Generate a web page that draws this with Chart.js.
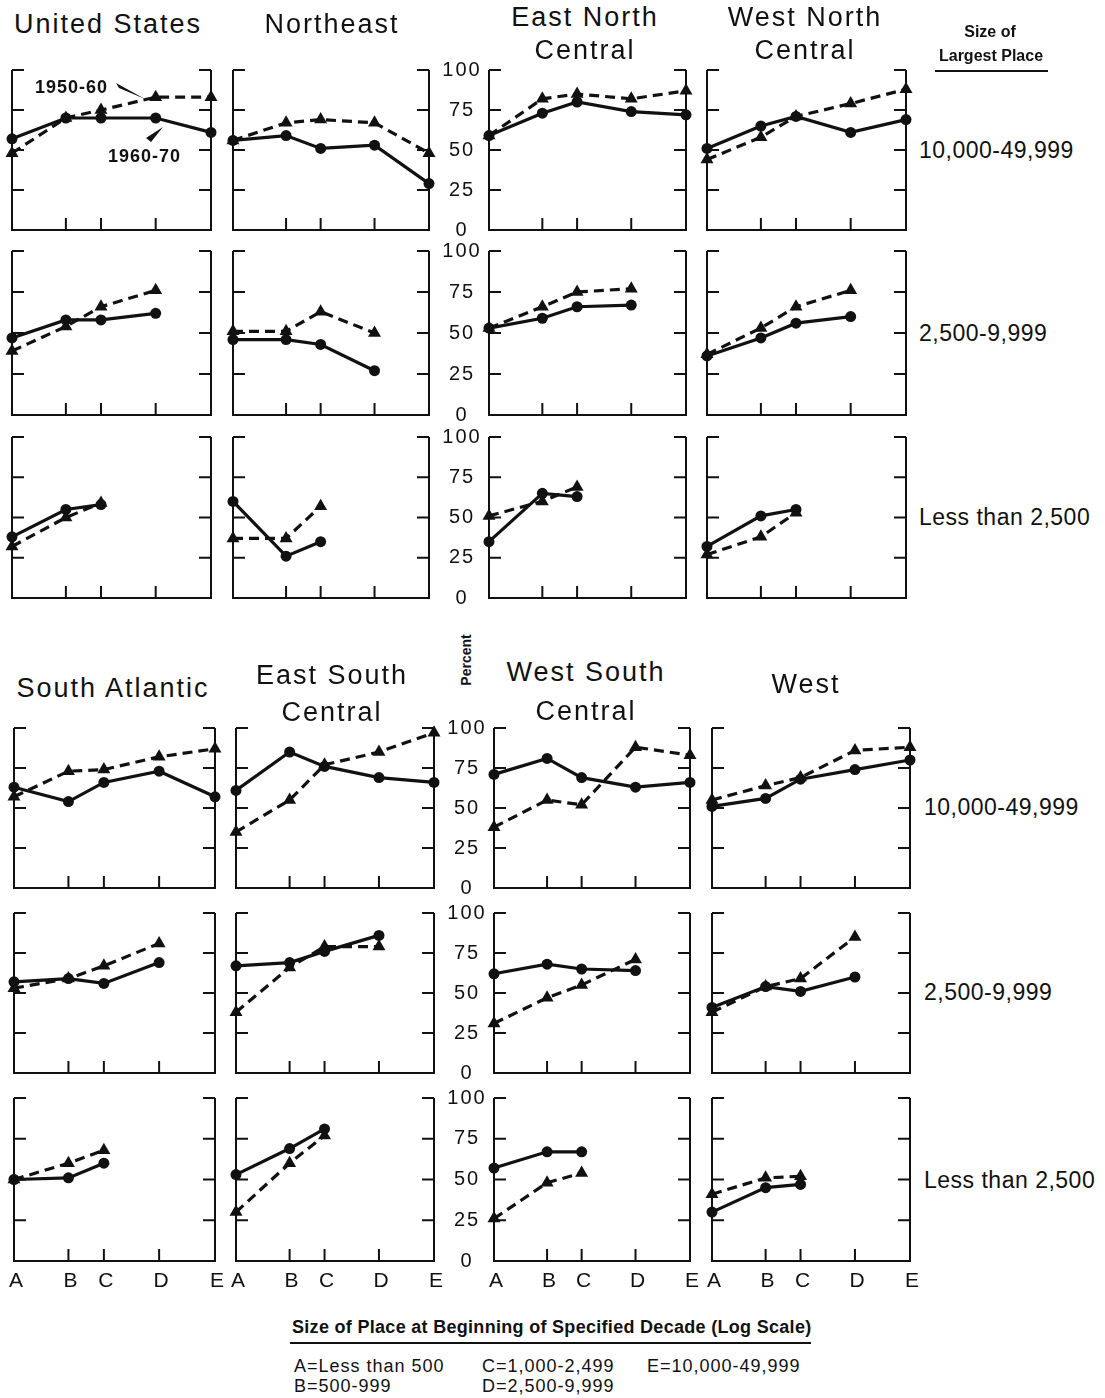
<!DOCTYPE html>
<html>
<head>
<meta charset="utf-8">
<script src="https://cdn.jsdelivr.net/npm/chart.js@4.4.0/dist/chart.umd.min.js"></script>
<style>
body { margin: 0; background: #fff; width: 1105px; height: 1398px; position: relative; overflow: hidden;
       font-family: "Liberation Sans", Arial, sans-serif; color: #111; }
.t { position: absolute; white-space: nowrap; line-height: 1; }
.c { transform: translate(-50%, -50%); }
.l { transform: translate(0, -50%); }
.title { font-size: 27px; letter-spacing: 2px; }
.row { font-size: 23px; letter-spacing: 0.5px; }
.key { font-size: 18px; letter-spacing: 1px; }
.bold { font-weight: bold; }
.small { font-size: 16px; }
.rule { position: absolute; height: 0; border-top: 2px solid #111; }
canvas { position: absolute; }
</style>
</head>
<body>
<script>
// x axis: size of place at beginning of decade (log scale)
const sizeLetters = ['A', 'B', 'C', 'D', 'E'];
const placeSize = [250, 870, 1960, 6950, 25000];
const percentTicks = [0, 25, 50, 75, 100];

const regionsTop = ['United States', 'Northeast', 'East North Central', 'West North Central'];
const regionsBottom = ['South Atlantic', 'East South Central', 'West South Central', 'West'];
const largestPlace = ['10,000-49,999', '2,500-9,999', 'Less than 2,500'];

// each array: rows for size of largest place 10,000-49,999 / 2,500-9,999 / less than 2,500
const us6070 = [[57, 70, 70, 70, 61], [47, 58, 58, 62], [38, 55, 58]];
const us5060 = [[48, 70, 75, 83, 83], [39, 54, 66, 76], [32, 50, 59]];
const ne6070 = [[56, 59, 51, 53, 29], [46, 46, 43, 27], [60, 26, 35]];
const ne5060 = [[56, 67, 69, 67, 48], [51, 51, 63, 50], [37, 37, 57]];
const enc6070 = [[59, 73, 80, 74, 72], [53, 59, 66, 67], [35, 65, 63]];
const enc5060 = [[59, 82, 85, 82, 87], [53, 66, 75, 77], [51, 60, 69]];
const wnc6070 = [[51, 65, 71, 61, 69], [36, 47, 56, 60], [32, 51, 55]];
const wnc5060 = [[44, 58, 71, 79, 88], [37, 53, 66, 76], [27, 38, 53]];
const sa6070 = [[63, 54, 66, 73, 57], [57, 59, 56, 69], [50, 51, 60]];
const sa5060 = [[57, 73, 74, 82, 87], [53, 59, 67, 81], [50, 60, 68]];
const esc6070 = [[61, 85, 76, 69, 66], [67, 69, 76, 86], [53, 69, 81]];
const esc5060 = [[35, 55, 77, 85, 97], [38, 66, 79, 79], [30, 60, 77]];
const wsc6070 = [[71, 81, 69, 63, 66], [62, 68, 65, 64], [57, 67, 67]];
const wsc5060 = [[38, 55, 52, 88, 83], [31, 47, 55, 71], [26, 48, 54]];
const west6070 = [[51, 56, 68, 74, 80], [41, 54, 51, 60], [30, 45, 47]];
const west5060 = [[55, 64, 69, 86, 88], [38, 54, 59, 85], [41, 51, 52]];

const series6070 = [[us6070, ne6070, enc6070, wnc6070], [sa6070, esc6070, wsc6070, west6070]];
const series5060 = [[us5060, ne5060, enc5060, wnc5060], [sa5060, esc5060, wsc5060, west5060]];

// panel placement (pixels of the plot frames)
const groupRows = [[[70, 230], [251, 415], [437, 598]], [[728, 888], [913, 1073], [1098, 1261]]];
const groupCols = [[[12, 211], [233, 429], [489, 686], [707, 906]], [[14, 215], [236, 434], [494, 690], [712, 910]]];
const TICK = 12;
const INK = '#111';

function text(str, x, y, cls) {
  const d = document.createElement('div');
  d.className = 't ' + cls;
  d.textContent = str;
  d.style.left = x + 'px';
  d.style.top = y + 'px';
  document.body.appendChild(d);
  return d;
}
function rule(x0, x1, y) {
  const d = document.createElement('div');
  d.className = 'rule';
  d.style.left = x0 + 'px';
  d.style.width = (x1 - x0) + 'px';
  d.style.top = (y - 1) + 'px';
  document.body.appendChild(d);
}

const framePlugin = {
  id: 'frame',
  beforeDatasetsDraw(chart, args, opts) {
    const { ctx, chartArea: a, scales: { x, y } } = chart;
    ctx.save();
    ctx.strokeStyle = INK;
    ctx.lineWidth = 2;
    ctx.lineJoin = 'miter';
    ctx.beginPath();
    ctx.moveTo(a.left, a.top);
    ctx.lineTo(a.left, a.bottom);
    ctx.lineTo(a.right, a.bottom);
    ctx.lineTo(a.right, a.top);
    percentTicks.forEach(v => {
      if (v === 0) return;
      const py = y.getPixelForValue(v);
      ctx.moveTo(a.left, py); ctx.lineTo(a.left + TICK, py);
      ctx.moveTo(a.right, py); ctx.lineTo(a.right - TICK, py);
    });
    placeSize.slice(1, -1).forEach(v => {
      const px = x.getPixelForValue(v);
      ctx.moveTo(px, a.bottom); ctx.lineTo(px, a.bottom - TICK);
    });
    ctx.stroke();

    ctx.fillStyle = INK;
    if (opts.yLabels) {
      ctx.font = '20px "Liberation Sans", Arial, sans-serif';
      ctx.letterSpacing = '2px';
      ctx.textAlign = 'center';
      ctx.textBaseline = 'middle';
      percentTicks.forEach(v => ctx.fillText(String(v), a.left - 27, y.getPixelForValue(v)));
    }
    if (opts.xLabels) {
      ctx.font = '21px "Liberation Sans", Arial, sans-serif';
      ctx.letterSpacing = '0px';
      ctx.textAlign = 'center';
      ctx.textBaseline = 'middle';
      placeSize.forEach((v, i) => ctx.fillText(sizeLetters[i], x.getPixelForValue(v) + 2, a.bottom + 20));
    }
    if (opts.key) {
      ctx.font = 'bold 18px "Liberation Sans", Arial, sans-serif';
      ctx.letterSpacing = '1px';
      ctx.textAlign = 'left';
      ctx.textBaseline = 'middle';
      ctx.fillText('1950-60', a.left + 23, a.top + 18);
      ctx.fillText('1960-70', a.left + 96, a.top + 87);
      // pointers
      ctx.beginPath();
      ctx.moveTo(a.left + 104, a.top + 13);
      ctx.lineTo(a.left + 107, a.top + 18);
      ctx.lineTo(a.left + 133, a.top + 29);
      ctx.closePath();
      ctx.fill();
      ctx.beginPath();
      ctx.moveTo(a.left + 134, a.top + 68);
      ctx.lineTo(a.left + 139, a.top + 72);
      ctx.lineTo(a.left + 151, a.top + 57);
      ctx.closePath();
      ctx.fill();
    }
    ctx.restore();
  }
};

function makePanel(g, c, r) {
  const [x0, x1] = groupCols[g][c];
  const [y0, y1] = groupRows[g][r];
  const pad = { left: 12, right: 12, top: 12, bottom: 12 };
  if (c === 2) pad.left = 60;
  if (g === 1 && r === 2) pad.bottom = 40;
  const w = x1 - x0 + pad.left + pad.right;
  const h = y1 - y0 + pad.top + pad.bottom;
  const cv = document.createElement('canvas');
  cv.width = w; cv.height = h;
  cv.style.left = (x0 - pad.left) + 'px';
  cv.style.top = (y0 - pad.top) + 'px';
  cv.style.width = w + 'px';
  cv.style.height = h + 'px';
  document.body.appendChild(cv);

  const solid = series6070[g][c][r];
  const dashed = series5060[g][c][r];
  new Chart(cv, {
    type: 'line',
    data: {
      datasets: [
        {
          label: '1950-60',
          data: dashed.map((v, i) => ({ x: placeSize[i], y: v })),
          borderColor: INK, backgroundColor: INK,
          borderWidth: 3.2, borderDash: [10, 6],
          pointStyle: 'triangle', pointRadius: 7.5, pointBorderWidth: 0,
          clip: false, tension: 0
        },
        {
          label: '1960-70',
          data: solid.map((v, i) => ({ x: placeSize[i], y: v })),
          borderColor: INK, backgroundColor: INK,
          borderWidth: 3.2,
          pointStyle: 'circle', pointRadius: 5.5, pointBorderWidth: 0,
          clip: false, tension: 0
        }
      ]
    },
    options: {
      responsive: false,
      animation: false,
      events: [],
      layout: { padding: pad },
      scales: {
        x: { type: 'logarithmic', min: placeSize[0], max: placeSize[placeSize.length - 1], display: false },
        y: { type: 'linear', min: 0, max: 100, display: false }
      },
      plugins: {
        legend: { display: false },
        tooltip: { enabled: false },
        frame: {
          yLabels: c === 2,
          xLabels: g === 1 && r === 2,
          key: g === 0 && c === 0 && r === 0
        }
      }
    },
    plugins: [framePlugin]
  });
}

for (let g = 0; g < 2; g++)
  for (let c = 0; c < 4; c++)
    for (let r = 0; r < 3; r++) makePanel(g, c, r);

// region titles
text(regionsTop[0], 108, 24, 'c title');
text(regionsTop[1], 332, 24, 'c title');
text('East North', 585, 17, 'c title');
text('Central', 585, 50, 'c title');
text('West North', 805, 17, 'c title');
text('Central', 805, 50, 'c title');
text(regionsBottom[0], 113, 688, 'c title');
text('East South', 332, 675, 'c title');
text('Central', 332, 712, 'c title');
text('West South', 586, 672, 'c title');
text('Central', 586, 711, 'c title');
text(regionsBottom[3], 806, 684, 'c title');

// size of largest place
text('Size of', 990, 32, 'c bold small');
text('Largest Place', 991, 56, 'c bold small');
rule(935, 1048, 71);
[150, 333, 517].forEach((y, i) => text(largestPlace[i], 919, y, 'l row'));
[807, 992, 1180].forEach((y, i) => text(largestPlace[i], 924, y, 'l row'));

// percent axis title
const p = text('Percent', 466, 660, 'bold');
p.style.fontSize = '14px';
p.style.transform = 'translate(-50%,-50%) rotate(-90deg)';

// footer
const ft = text('Size of Place at Beginning of Specified Decade (Log Scale)', 292, 1327, 'l bold');
ft.style.fontSize = '18px';
ft.style.letterSpacing = '0.3px';
rule(290, 811, 1343);
text('A=Less than 500', 294, 1366, 'l key');
text('B=500-999', 294, 1386, 'l key');
text('C=1,000-2,499', 482, 1366, 'l key');
text('D=2,500-9,999', 482, 1386, 'l key');
text('E=10,000-49,999', 647, 1366, 'l key');
</script>
</body>
</html>
